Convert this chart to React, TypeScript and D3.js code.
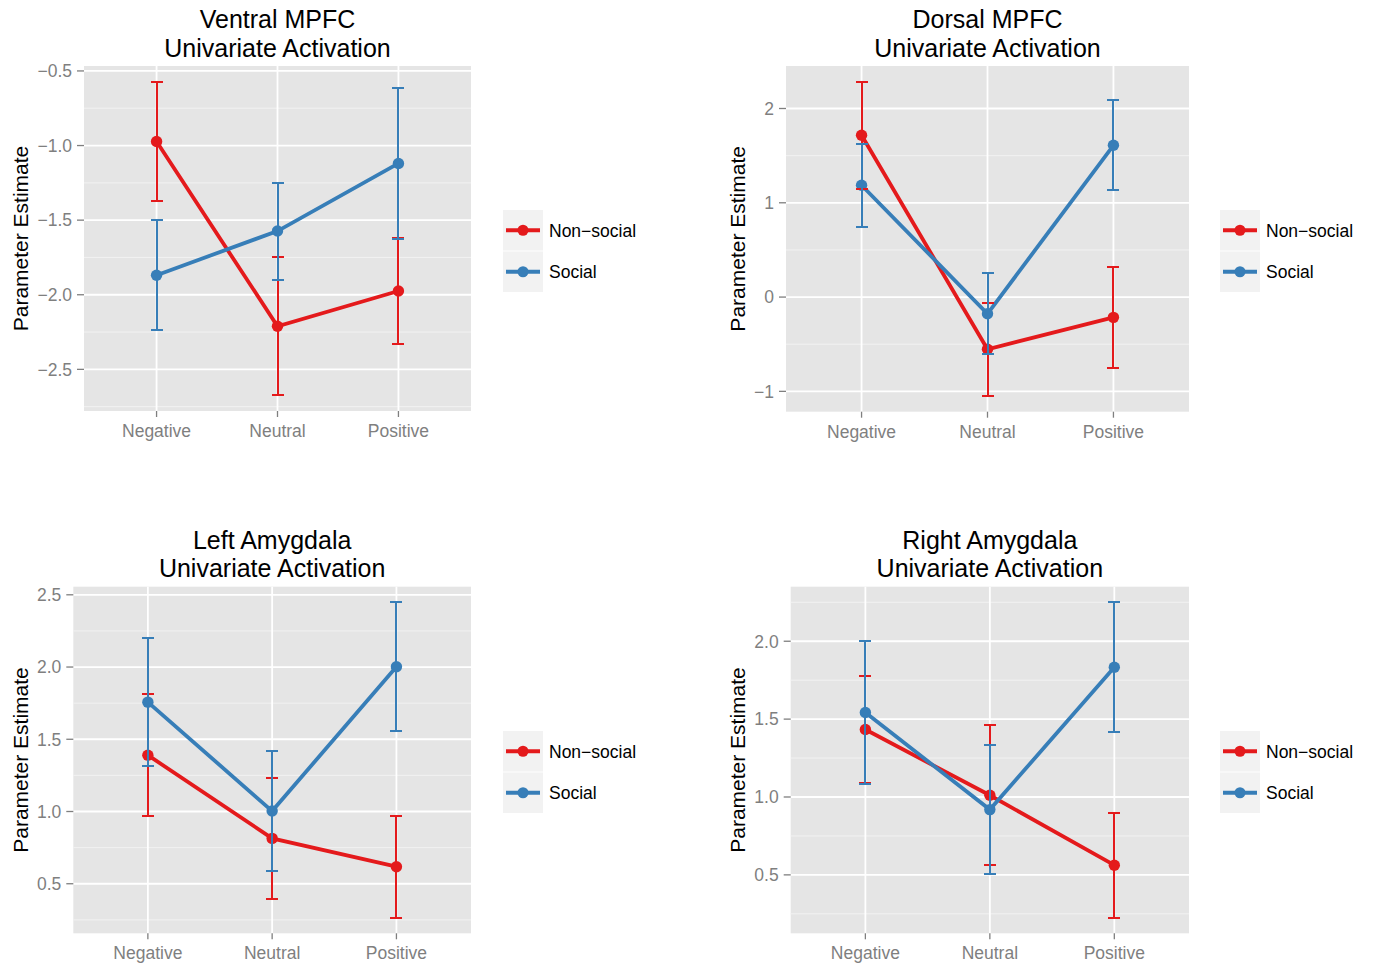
import React from "react";
import * as d3 from "d3";

const categories = ["Negative", "Neutral", "Positive"];
const groups = ["Non−social", "Social"];
const groupColors = ["#e41a1c", "#377eb8"];

const titles = [
  ["Ventral MPFC", "Univariate Activation"],
  ["Dorsal MPFC", "Univariate Activation"],
  ["Left Amygdala", "Univariate Activation"],
  ["Right Amygdala", "Univariate Activation"],
];

// means and standard errors, [non-social, social]
const ventralMean = [[-0.973, -2.211, -1.975], [-1.869, -1.573, -1.12]];
const ventralSe = [[0.401, 0.463, 0.357], [0.368, 0.325, 0.506]];
const dorsalMean = [[1.716, -0.554, -0.215], [1.186, -0.177, 1.61]];
const dorsalSe = [[0.568, 0.495, 0.537], [0.438, 0.429, 0.477]];
const leftAmyMean = [[1.39, 0.814, 0.618], [1.757, 1.003, 2.002]];
const leftAmySe = [[0.421, 0.421, 0.352], [0.445, 0.413, 0.445]];
const rightAmyMean = [[1.433, 1.011, 0.562], [1.542, 0.919, 1.833]];
const rightAmySe = [[0.346, 0.45, 0.336], [0.461, 0.412, 0.416]];

const ventralTicks = [-2.5, -2.0, -1.5, -1.0, -0.5];
const dorsalTicks = [-1, 0, 1, 2];
const leftAmyTicks = [0.5, 1.0, 1.5, 2.0, 2.5];
const rightAmyTicks = [0.5, 1.0, 1.5, 2.0];

const panels = [
  { mean: ventralMean, se: ventralSe, ticks: ventralTicks, fmt: ".1f", box: [84, 66, 471, 411], legend: [503, 210], yTitleX: 28 },
  { mean: dorsalMean, se: dorsalSe, ticks: dorsalTicks, fmt: ".0f", box: [786, 66, 1189, 411.7], legend: [1220, 210], yTitleX: 745 },
  { mean: leftAmyMean, se: leftAmySe, ticks: leftAmyTicks, fmt: ".1f", box: [73.3, 586.7, 471, 933.3], legend: [503, 731], yTitleX: 28 },
  { mean: rightAmyMean, se: rightAmySe, ticks: rightAmyTicks, fmt: ".1f", box: [790.7, 586.7, 1189, 933.3], legend: [1220, 731], yTitleX: 745 },
];

const font = "'Liberation Sans', Arial, Helvetica, sans-serif";
const grey50 = "#7f7f7f";

function Panel({ p, title }: any) {
  const [x0, y0, x1, y1] = p.box;
  const lows = p.mean.flatMap((m: number[], g: number) => m.map((v, i) => v - p.se[g][i]));
  const highs = p.mean.flatMap((m: number[], g: number) => m.map((v, i) => v + p.se[g][i]));
  const lo = d3.min(lows) as number;
  const hi = d3.max(highs) as number;
  const pad = (hi - lo) * 0.05;
  const y = d3.scaleLinear().domain([lo - pad, hi + pad]).range([y1, y0]);
  const x = d3.scalePoint().domain(categories).range([x0, x1]).padding(0.6);
  const fmt = d3.format(p.fmt);

  const step = p.ticks[1] - p.ticks[0];
  const minor: number[] = [];
  for (let t = p.ticks[0] - step / 2; t <= p.ticks[p.ticks.length - 1] + step; t += step) {
    if (t >= y.domain()[0] && t <= y.domain()[1]) minor.push(t);
  }

  const line = d3
    .line<number>()
    .x((_, i) => x(categories[i]) as number)
    .y(d => y(d));

  const cx = (x0 + x1) / 2;
  const cy = (y0 + y1) / 2;
  const [lx, ly] = p.legend;
  const capW = 6;

  return (
    <g>
      <text x={cx} y={y0 - 37.7} textAnchor="middle" fontSize={25} fill="#000">{title[0]}</text>
      <text x={cx} y={y0 - 9.3} textAnchor="middle" fontSize={25} fill="#000">{title[1]}</text>
      <rect x={x0} y={y0} width={x1 - x0} height={y1 - y0} fill="#e5e5e5" />
      {minor.map(t => (
        <line key={"m" + t} x1={x0} x2={x1} y1={y(t)} y2={y(t)} stroke="#f2f2f2" strokeWidth={1} />
      ))}
      {p.ticks.map((t: number) => (
        <line key={"g" + t} x1={x0} x2={x1} y1={y(t)} y2={y(t)} stroke="#fff" strokeWidth={1.8} />
      ))}
      {categories.map(c => (
        <line key={"v" + c} x1={x(c)} x2={x(c)} y1={y0} y2={y1} stroke="#fff" strokeWidth={1.8} />
      ))}
      {/* axes */}
      {p.ticks.map((t: number) => (
        <g key={"t" + t}>
          <line x1={x0 - 7} x2={x0} y1={y(t)} y2={y(t)} stroke={grey50} strokeWidth={1.3} />
          <text x={x0 - 12} y={y(t)} dy="0.36em" textAnchor="end" fontSize={17.5} fill={grey50}>{fmt(t)}</text>
        </g>
      ))}
      {categories.map(c => (
        <g key={"xt" + c}>
          <line x1={x(c)} x2={x(c)} y1={y1} y2={y1 + 6} stroke={grey50} strokeWidth={1.3} />
          <text x={x(c)} y={y1 + 26} textAnchor="middle" fontSize={17.5} fill={grey50}>{c}</text>
        </g>
      ))}
      <text transform={`translate(${p.yTitleX},${cy}) rotate(-90)`} textAnchor="middle" fontSize={21} fill="#000">
        Parameter Estimate
      </text>
      {p.mean.map((m: number[], g: number) => (
        <path key={"l" + g} d={line(m) as string} fill="none" stroke={groupColors[g]} strokeWidth={3.8} />
      ))}
      {p.mean.map((m: number[], g: number) =>
        m.map((v, i) => (
          <circle key={"p" + g + i} cx={x(categories[i])} cy={y(v)} r={5.7} fill={groupColors[g]} />
        ))
      )}
      {/* error bars on top */}
      {p.mean.map((m: number[], g: number) =>
        m.map((v, i) => {
          const xx = Math.round(x(categories[i]) as number);
          const a = Math.round(y(v + p.se[g][i]));
          const b = Math.round(y(v - p.se[g][i]));
          return (
            <g key={"e" + g + i} stroke={groupColors[g]} strokeWidth={2}>
              <line x1={xx} x2={xx} y1={a} y2={b} />
              <line x1={xx - capW} x2={xx + capW} y1={a} y2={a} />
              <line x1={xx - capW} x2={xx + capW} y1={b} y2={b} />
            </g>
          );
        })
      )}
      {/* legend */}
      {groups.map((name, g) => {
        const ky = ly + g * 41.5;
        return (
          <g key={"lg" + g}>
            <rect x={lx} y={ky} width={40} height={40.5} fill="#f2f2f2" />
            <line x1={lx + 3} x2={lx + 37} y1={ky + 20.25} y2={ky + 20.25} stroke={groupColors[g]} strokeWidth={3.8} />
            <circle cx={lx + 20} cy={ky + 20.25} r={5.5} fill={groupColors[g]} />
            <text x={lx + 46} y={ky + 20.25} dy="0.36em" fontSize={17.5} fill="#000">{name}</text>
          </g>
        );
      })}
    </g>
  );
}

export default function App() {
  return (
    <svg
      width={1373}
      height={967}
      style={{ position: "absolute", left: 0, top: 0, background: "#fff" }}
      fontFamily={font}
    >
      <rect width={1373} height={967} fill="#fff" />
      {panels.map((p, i) => (
        <Panel key={i} p={p} title={titles[i]} />
      ))}
    </svg>
  );
}
